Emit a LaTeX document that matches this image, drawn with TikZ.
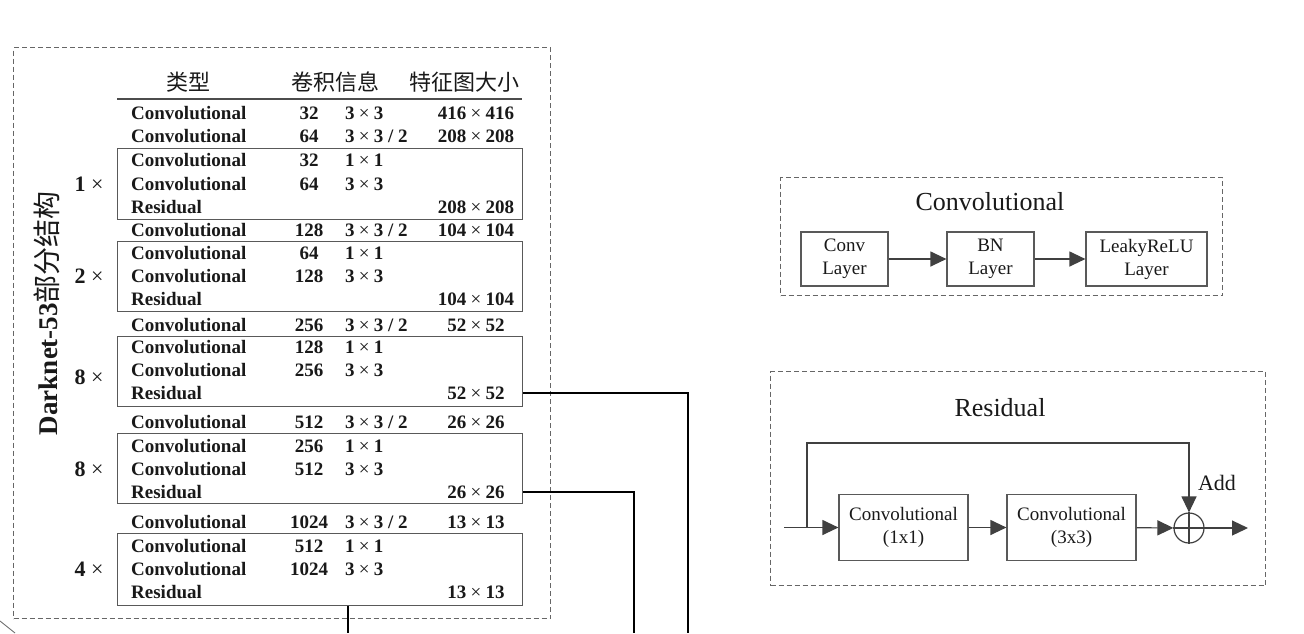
\documentclass[tikz,border=0pt]{standalone}
\usepackage{fontspec}
\setmainfont{Liberation Serif}
\newfontfamily\cjk{Noto Sans CJK SC}
\usetikzlibrary{arrows.meta}

% multiplication sign in regular weight inside bold table cells
\newcommand\bytimes{\hspace{0.22em}{\mdseries ×}\hspace{0.22em}}
% one table row: name, y, type, filters, kernel, output size
\newcommand\tabrow[6]{%
  \node[tabtype] (#1t) at (131,#2) {#3};
  \node[tabnum]  (#1n) at (309,#2) {#4};
  \node[tabker]  (#1k) at (345,#2) {#5};
  \node[tabsize] (#1s) at (476,#2) {#6};
}

\begin{document}
\begin{tikzpicture}[x=1pt,y=-1pt,
  tabfont/.style={font=\fontsize{19}{22}\selectfont\bfseries, text=black!90,
    inner sep=0pt, yshift=-6.3pt},
  tabtype/.style={tabfont, anchor=base west},
  tabnum/.style={tabfont, anchor=base},
  tabker/.style={tabfont, anchor=base west},
  tabsize/.style={tabfont, anchor=base},
  header/.style={font=\cjk\fontsize{22}{24}\selectfont, text=black!90, inner sep=0pt},
  repeat/.style={font=\fontsize{22}{24}\selectfont, text=black!90, inner sep=0pt},
  group/.style={draw=black!65, line width=1.3pt, rectangle, inner sep=0pt,
    anchor=north west, minimum width=405},
  frame/.style={draw=black!60, line width=1.1pt, dash pattern=on 5pt off 3pt,
    rectangle, inner sep=0pt, anchor=north west},
  link/.style={draw=black, line width=1.8pt},
  layer/.style={draw=black!65, line width=1.2pt, rectangle, align=center,
    font=\fontsize{19}{23}\selectfont, text=black!90, inner sep=0pt},
  title/.style={font=\fontsize{26}{28}\selectfont, text=black!90, inner sep=0pt},
  flow/.style={draw=black!75, line width=1.2pt, -{Triangle[length=16pt,width=15pt]}},
]
\fill[white] (0,0) rectangle (1304,633);
\useasboundingbox (0,0) rectangle (1304,633);

% ---------------- Darknet-53 table ----------------
\node[frame, minimum width=537, minimum height=571] (netframe) at (13,47) {};
\node[rotate=90, inner sep=0pt, text=black!90] (nettitle) at (47,313)
  {{\fontsize{27}{30}\selectfont\bfseries Darknet-53}{\cjk\fontsize{28}{30}\selectfont 部分结构}};

\node[header] (h1) at (188,82) {类型};
\node[header] (h2) at (335,82) {卷积信息};
\node[header] (h3) at (464,82) {特征图大小};
\draw[draw=black!70, line width=1.2pt] (117,99) -- (522,99);

\tabrow{a1}{113}{Convolutional}{32}{3\bytimes 3}{416\bytimes 416}
\tabrow{a2}{136}{Convolutional}{64}{3\bytimes 3 / 2}{208\bytimes 208}

\node[group, minimum height=71] (g1) at (117,148) {};
\tabrow{b1}{160}{Convolutional}{32}{1\bytimes 1}{}
\tabrow{b2}{184}{Convolutional}{64}{3\bytimes 3}{}
\tabrow{b3}{207}{Residual}{}{}{208\bytimes 208}
\node[repeat] (m1) at (89,184) {\textbf{1} ×};

\tabrow{c0}{230}{Convolutional}{128}{3\bytimes 3 / 2}{104\bytimes 104}
\node[group, minimum height=70] (g2) at (117,241) {};
\tabrow{c1}{253}{Convolutional}{64}{1\bytimes 1}{}
\tabrow{c2}{276}{Convolutional}{128}{3\bytimes 3}{}
\tabrow{c3}{299}{Residual}{}{}{104\bytimes 104}
\node[repeat] (m2) at (89,276) {\textbf{2} ×};

\tabrow{d0}{325}{Convolutional}{256}{3\bytimes 3 / 2}{52\bytimes 52}
\node[group, minimum height=70] (g3) at (117,336) {};
\tabrow{d1}{347}{Convolutional}{128}{1\bytimes 1}{}
\tabrow{d2}{370}{Convolutional}{256}{3\bytimes 3}{}
\tabrow{d3}{393}{Residual}{}{}{52\bytimes 52}
\node[repeat] (m3) at (89,377) {\textbf{8} ×};

\tabrow{e0}{422}{Convolutional}{512}{3\bytimes 3 / 2}{26\bytimes 26}
\node[group, minimum height=70] (g4) at (117,433) {};
\tabrow{e1}{446}{Convolutional}{256}{1\bytimes 1}{}
\tabrow{e2}{469}{Convolutional}{512}{3\bytimes 3}{}
\tabrow{e3}{492}{Residual}{}{}{26\bytimes 26}
\node[repeat] (m4) at (89,469) {\textbf{8} ×};

\tabrow{f0}{522}{Convolutional}{1024}{3\bytimes 3 / 2}{13\bytimes 13}
\node[group, minimum height=72] (g5) at (117,533) {};
\tabrow{f1}{546}{Convolutional}{512}{1\bytimes 1}{}
\tabrow{f2}{569}{Convolutional}{1024}{3\bytimes 3}{}
\tabrow{f3}{592}{Residual}{}{}{13\bytimes 13}
\node[repeat] (m5) at (89,569) {\textbf{4} ×};

% feature-map outputs leaving the backbone
\coordinate (drop3) at (688,633);
\coordinate (drop4) at (634,633);
\coordinate (drop5) at (348,633);
\draw[link] (g3.east |- 0,393) -| (drop3);
\draw[link] (g4.east |- 0,492) -| (drop4);
\draw[link] (g5.south -| drop5) -- (drop5);

\draw[draw=black!60, line width=0.8pt] (0,621) -- (15,633);

% ---------------- Convolutional block ----------------
\node[frame, minimum width=442, minimum height=118] (convframe) at (780,177) {};
\node[title] (convtitle) at (990,202) {Convolutional};
\node[layer, minimum width=87, minimum height=54] (convl) at (844.5,259) {Conv\\Layer};
\node[layer, minimum width=87, minimum height=54] (bnl) at (990.5,259) {BN\\Layer};
\node[layer, minimum width=121, minimum height=54] (leaky) at (1146.5,259) {LeakyReLU\\Layer};
\draw[flow] (convl) -- (bnl);
\draw[flow] (bnl) -- (leaky);

% ---------------- Residual block ----------------
\node[frame, minimum width=495, minimum height=214] (resframe) at (770,371) {};
\node[title] (restitle) at (1000,408) {Residual};
\node[layer, minimum width=129, minimum height=66] (c1x1) at (903.5,527.5) {Convolutional\\(1x1)};
\node[layer, minimum width=129, minimum height=66] (c3x3) at (1071.5,527.5) {Convolutional\\(3x3)};
\node[draw=black!75, line width=1.2pt, circle, minimum size=30pt, inner sep=0pt] (addn) at (1189,528) {};
\draw[draw=black!75, line width=1.2pt] (addn.north) -- (addn.south) (addn.west) -- (addn.east);
\node[title, font=\fontsize{22}{24}\selectfont] (addlabel) at (1217,483) {Add};

\coordinate (resin) at (784,527.5);
\coordinate (split) at (807,527.5);
\coordinate (skip) at (807,443);
\coordinate (resout) at (1248,528);
\draw[flow] (resin) -- (c1x1);
\draw[flow] (c1x1) -- (c3x3);
\draw[flow] (c3x3) -- (addn);
\draw[flow] (split) -- (skip) -| (addn);
\draw[flow] (addn) -- (resout);
\end{tikzpicture}
\end{document}
